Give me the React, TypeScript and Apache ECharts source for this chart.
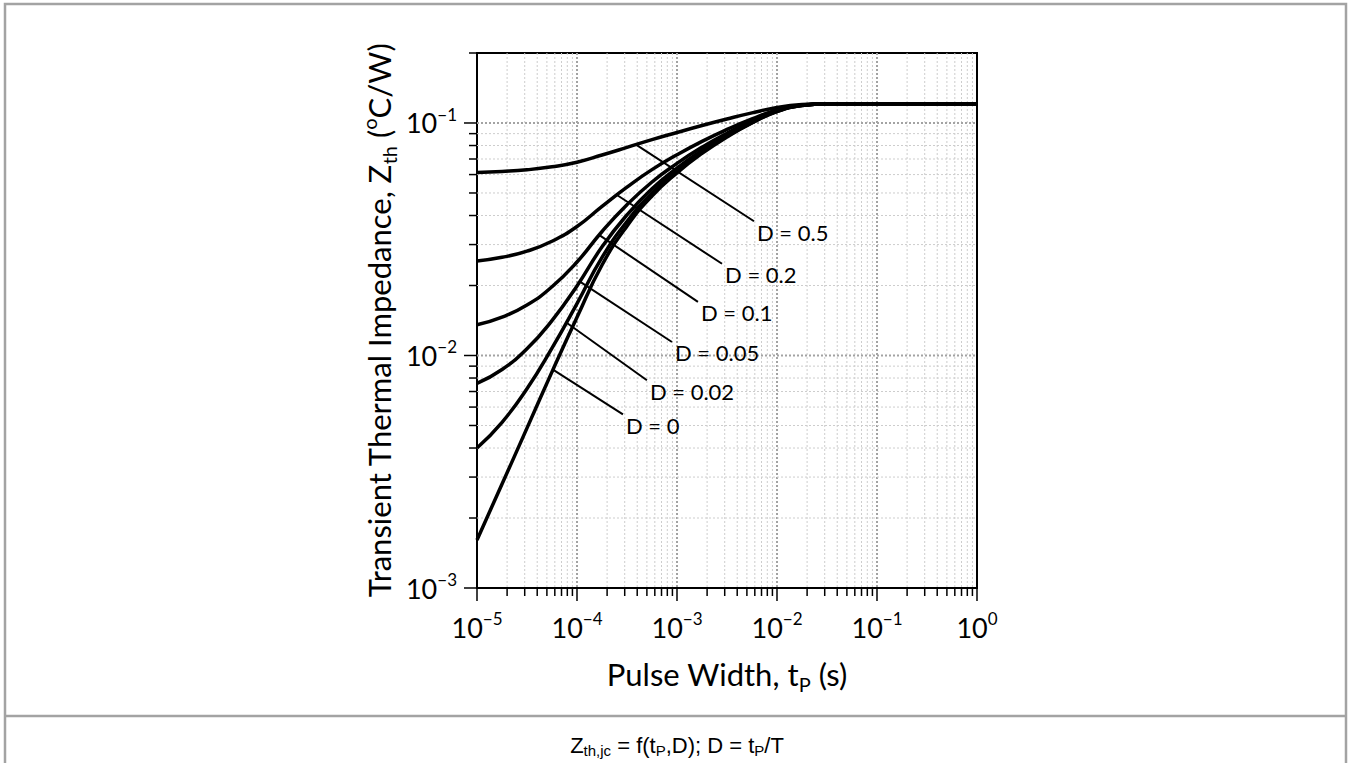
import React, { useEffect, useRef } from 'react';
import * as echarts from 'echarts';

// Pulse width samples (s)
const pulseWidth = [1e-5, 1.78e-5, 3.16e-5, 5.62e-5, 1e-4, 1.78e-4, 3.16e-4, 5.62e-4, 1e-3, 1.78e-3, 3.16e-3, 5.62e-3, 1e-2, 1.78e-2, 3.16e-2, 1e-1, 1];

// Transient thermal impedance Zth (°C/W) per duty cycle
const zthD0 = [0.00161, 0.0028, 0.00487, 0.0085, 0.0146, 0.0245, 0.036, 0.0485, 0.061, 0.074, 0.087, 0.1, 0.112, 0.119, 0.121, 0.121, 0.121];
const zthD002 = [0.004, 0.00516, 0.00719, 0.01075, 0.01673, 0.02643, 0.0377, 0.04995, 0.0622, 0.0749, 0.0877, 0.1004, 0.1122, 0.119, 0.121, 0.121, 0.121];
const zthD005 = [0.00758, 0.00871, 0.01068, 0.01413, 0.01992, 0.02933, 0.04025, 0.05213, 0.064, 0.07635, 0.0887, 0.1011, 0.1125, 0.1191, 0.121, 0.121, 0.121];
const zthD01 = [0.01355, 0.01462, 0.01648, 0.01975, 0.02524, 0.03415, 0.0445, 0.05575, 0.067, 0.0787, 0.0904, 0.1021, 0.1129, 0.1192, 0.121, 0.121, 0.121];
const zthD02 = [0.02549, 0.02644, 0.0281, 0.031, 0.03588, 0.0438, 0.053, 0.063, 0.073, 0.0834, 0.0938, 0.1042, 0.1138, 0.1194, 0.121, 0.121, 0.121];
const zthD05 = [0.0613, 0.0619, 0.0629, 0.0648, 0.0678, 0.0728, 0.0785, 0.0848, 0.091, 0.0975, 0.104, 0.1105, 0.1165, 0.12, 0.121, 0.121, 0.121];

const curves = [zthD05, zthD02, zthD01, zthD005, zthD002, zthD0];

// Annotation leaders: [tP, Zth] start on curve, end at label
const dutyLabels = ['D = 0.5', 'D = 0.2', 'D = 0.1', 'D = 0.05', 'D = 0.02', 'D = 0'];
const leaderStart = [[3.89e-4, 0.0807], [2.51e-4, 0.049], [1.66e-4, 0.033], [1.07e-4, 0.0208], [7.94e-5, 0.0138], [5.75e-5, 0.0087]];
const leaderEnd = [[5.89e-3, 0.0378], [2.82e-3, 0.0248], [1.62e-3, 0.017], [8.9e-4, 0.01143], [5.0e-4, 0.00783], [2.88e-4, 0.00558]];

// Axis structure
const xDecades = [1e-5, 1e-4, 1e-3, 1e-2, 1e-1, 1];
const yDecades = [1e-3, 1e-2, 1e-1];
const minorMultipliers = [2, 3, 4, 5, 6, 7, 8, 9];
const xMin = 1e-5, xMax = 1, yMin = 1e-3, yMax = 0.2;

const FONT = 'Lato';

function powLabel(v: number) {
  const l = Math.log10(v);
  const e = Math.round(l);
  if (Math.abs(l - e) > 0.01) return '';
  return `{b|10}{s|${e < 0 ? '\u2212' : ''}${Math.abs(e)}}`;
}

const tickRich = {
  b: { fontFamily: FONT, fontSize: 27, color: '#000', lineHeight: 34 },
  s: { fontFamily: FONT, fontSize: 17, color: '#000', lineHeight: 26, verticalAlign: 'top' },
};

export default function App() {
  const ref = useRef<HTMLDivElement>(null);
  useEffect(() => {
    const chart = echarts.init(ref.current!, null, { renderer: 'svg' });

    const xGridData: number[][] = [];
    xDecades.forEach((d) => xGridData.push([d, 0.01, 1]));
    xDecades.slice(0, -1).forEach((d) => minorMultipliers.forEach((m) => xGridData.push([m * d, 0.01, 0])));
    const yGridData: number[][] = [];
    yDecades.forEach((d) => yGridData.push([1e-3, d, 1]));
    yDecades.forEach((d) => minorMultipliers.forEach((m) => { if (m * d <= yMax * 1.0001) yGridData.push([1e-3, m * d, 0]); }));

    const majorGrid = { stroke: '#a3a3a3', lineWidth: 2, lineDash: [2, 2] };
    const minorGrid = { stroke: '#cdcdcd', lineWidth: 1, lineDash: [2, 2] };
    const tickStyle = { stroke: '#000', lineWidth: 1.5 };

    const series: any[] = [
      {
        type: 'custom', silent: true, z: 1, clip: false,
        data: xGridData, encode: { x: 0, y: 1 },
        renderItem: (params: any, api: any) => {
          const cs = params.coordSys;
          const major = api.value(2) === 1;
          const x = api.coord([api.value(0), 0.01])[0];
          const top = cs.y, bottom = cs.y + cs.height;
          const children: any[] = [];
          if (x > cs.x + 1 && x < cs.x + cs.width - 1) {
            children.push({ type: 'line', shape: { x1: x, y1: top, x2: x, y2: bottom }, style: major ? majorGrid : minorGrid });
          }
          children.push({ type: 'line', shape: { x1: x, y1: bottom, x2: x, y2: bottom + (major ? 13 : 8) }, style: tickStyle });
          return { type: 'group', children };
        },
      },
      {
        type: 'custom', silent: true, z: 1, clip: false,
        data: yGridData, encode: { x: 0, y: 1 },
        renderItem: (params: any, api: any) => {
          const cs = params.coordSys;
          const major = api.value(2) === 1;
          const y = api.coord([1e-3, api.value(1)])[1];
          const left = cs.x, right = cs.x + cs.width;
          const children: any[] = [];
          if (y > cs.y + 1 && y < cs.y + cs.height - 1) {
            children.push({ type: 'line', shape: { x1: left, y1: y, x2: right, y2: y }, style: major ? majorGrid : minorGrid });
          }
          children.push({ type: 'line', shape: { x1: left, y1: y, x2: left - (major ? 13 : 8), y2: y }, style: tickStyle });
          return { type: 'group', children };
        },
      },
    ];

    curves.forEach((c) => {
      series.push({
        type: 'line', z: 5, showSymbol: false, symbol: 'none', smooth: 0.5,
        data: pulseWidth.map((t, i) => [t, c[i]]),
        lineStyle: { color: '#000', width: 3.5 },
      });
    });

    dutyLabels.forEach((lab, i) => {
      series.push({
        type: 'line', z: 6, showSymbol: false, symbol: 'none',
        data: [leaderStart[i], leaderEnd[i]],
        lineStyle: { color: '#000', width: 2 },
        endLabel: {
          show: true, formatter: lab, fontFamily: FONT, fontSize: 22, color: '#000',
          distance: 2, offset: [1, 11],
        },
      });
    });

    const option: any = {
      animation: false,
      backgroundColor: '#fff',
      grid: { left: 477, top: 53, width: 500, height: 535, show: true, borderColor: '#000', borderWidth: 2, backgroundColor: 'transparent' },
      xAxis: {
        type: 'log', logBase: 10, min: xMin, max: xMax,
        axisLine: { show: true, lineStyle: { color: '#000', width: 2 } },
        axisTick: { show: false }, splitLine: { show: false }, minorTick: { show: false },
        axisLabel: { margin: 22, formatter: powLabel, rich: tickRich, showMinLabel: true, showMaxLabel: true },
        name: 'Pulse Width, t{sub|P} (s)', nameLocation: 'middle', nameGap: 66,
        nameTextStyle: {
          fontFamily: FONT, fontSize: 31, color: '#000', lineHeight: 40,
          rich: {
            sub: { fontFamily: FONT, fontSize: 20, color: '#000', lineHeight: 24, verticalAlign: 'bottom' },
          },
        },
      },
      yAxis: {
        type: 'log', logBase: 10, min: yMin, max: yMax,
        axisLine: { show: true, lineStyle: { color: '#000', width: 2 } },
        axisTick: { show: false }, splitLine: { show: false }, minorTick: { show: false },
        axisLabel: { margin: 20, formatter: powLabel, rich: tickRich, showMinLabel: true, showMaxLabel: true },
        name: 'Transient Thermal Impedance, Z{sub|th} ({sup|o}C/W)', nameLocation: 'middle', nameGap: 78, nameRotate: 90,
        nameTextStyle: {
          fontFamily: FONT, fontSize: 31, color: '#000', lineHeight: 40,
          rich: {
            sub: { fontFamily: FONT, fontSize: 20, color: '#000', lineHeight: 24, verticalAlign: 'bottom' },
            sup: { fontFamily: FONT, fontSize: 20, color: '#000', lineHeight: 23, verticalAlign: 'top' },
          },
        },
      },
      graphic: [
        { type: 'rect', shape: { x: 5, y: 4, width: 1341, height: 820 }, style: { fill: 'none', stroke: '#a3a3a3', lineWidth: 2.5 }, silent: true, z: 0 },
        { type: 'line', shape: { x1: 5, y1: 716, x2: 1346, y2: 716 }, style: { stroke: '#a3a3a3', lineWidth: 2.5 }, silent: true, z: 0 },
        {
          type: 'text', x: 677, y: 745, silent: true,
          style: {
            text: 'Z{sub|th,jc} = f(t{sub|P},D); D = t{sub|P}/T',
            fontFamily: 'Liberation Sans', fontSize: 22, fill: '#000', align: 'center', verticalAlign: 'middle',
            rich: {
              sub: { fontFamily: 'Liberation Sans', fontSize: 15, fill: '#000', lineHeight: 18, verticalAlign: 'bottom' },
            },
            lineHeight: 26,
          },
        },
      ],
      series,
    };
    chart.setOption(option);
    return () => chart.dispose();
  }, []);
  return <div ref={ref} style={{ position: 'absolute', left: 0, top: 0, width: 1351, height: 763, background: '#fff' }} />;
}
